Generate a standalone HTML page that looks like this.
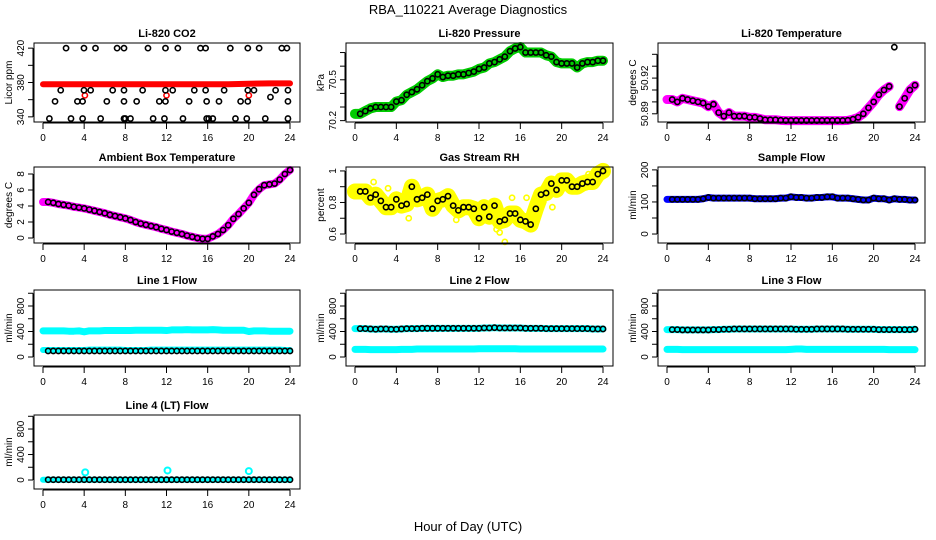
<!DOCTYPE html>
<html><head><meta charset="utf-8"><style>
html,body{margin:0;padding:0;background:#fff;}
svg{display:block;font-family:"Liberation Sans",Arial,sans-serif;}
</style></head><body>
<svg id="chart" width="936" height="540" viewBox="0 0 936 540" xmlns="http://www.w3.org/2000/svg">
<rect width="936" height="540" fill="#fff"/>
<text x="468" y="14" text-anchor="middle" font-size="13">RBA_110221  Average Diagnostics</text>
<text x="468" y="531" text-anchor="middle" font-size="13">Hour of Day (UTC)</text>
</svg>
<script>
// ---- data ----
const halfHours = [0.5,1,1.5,2,2.5,3,3.5,4,4.5,5,5.5,6,6.5,7,7.5,8,8.5,9,9.5,10,10.5,11,11.5,12,12.5,13,13.5,14,14.5,15,15.5,16,16.5,17,17.5,18,18.5,19,19.5,20,20.5,21,21.5,22,22.5,23,23.5,24];
const xTicks = [0,4,8,12,16,20,24];

const co2BlackHours = [2.24,3.98,5.1,7.2,7.87,10.2,11.9,13.1,15.3,15.8,18.2,19.9,21.0,23.2,23.7,
  1.72,3.98,4.63,6.77,7.87,9.68,11.9,12.6,14.7,15.8,17.6,19.9,20.5,22.6,23.8,
  1.17,3.34,3.85,6.2,7.87,9.1,11.3,11.9,14.2,15.9,17.1,19.2,19.9,23.8,22.1,
  0.62,2.72,3.85,5.6,7.87,8.0,8.5,10.7,11.8,13.6,15.9,16.1,16.5,18.7,19.8,21.6,23.8];
const co2BlackValues = [420,420,420,420,420,420,420,420,420,420,420,420,420,420,420,
  371,371,371,371,371,371,371,371,371,371,371,371,371,371,371,
  358,358,358,358,358,358,358,358,358,358,358,358,358,358,363,
  338,338,338,338,338,338,338,338,338,338,338,338,338,338,338,338,338];
const co2RedHours = [0,2,4,6,8,10,12,14,16,18,20,22,24];
const co2RedValues = [378,378,378,378,378,378,378,378,378,378,378.5,379,379];
const co2RedOutHours = [4.07,12.0,20.0];
const co2RedOutValues = [365,365,365];

const pressure = [70.25,70.27,70.29,70.30,70.30,70.30,70.30,70.34,70.35,70.39,70.41,70.43,70.46,70.49,70.51,70.54,70.52,70.53,70.53,70.54,70.54,70.55,70.56,70.58,70.59,70.62,70.63,70.65,70.67,70.71,70.73,70.74,70.70,70.70,70.70,70.70,70.68,70.67,70.63,70.62,70.62,70.62,70.59,70.62,70.63,70.63,70.64,70.64];
const licorTemp = [50.902,50.900,50.903,50.902,50.901,50.900,50.899,50.896,50.898,50.891,50.888,50.891,50.888,50.888,50.888,50.887,50.887,50.886,50.885,50.885,50.885,50.8845,50.8843,50.8843,50.8843,50.8843,50.8843,50.8843,50.8843,50.8843,50.8843,50.8843,50.8843,50.8843,50.8845,50.8855,50.887,50.890,50.895,50.900,50.906,50.910,50.913,50.946,50.896,50.903,50.910,50.914];
const ambientTemp = [4.5,4.4,4.25,4.15,4.05,3.9,3.8,3.7,3.55,3.4,3.25,3.1,2.9,2.75,2.6,2.45,2.25,2.0,1.8,1.65,1.5,1.35,1.15,1.0,0.8,0.65,0.5,0.3,0.15,0.0,-0.1,-0.1,0.2,0.5,1.0,1.6,2.4,3.0,3.7,4.4,5.4,6.1,6.6,6.7,6.8,7.3,8.0,8.5];
const gasRH = [0.87,0.87,0.83,0.85,0.81,0.77,0.77,0.82,0.78,0.79,0.90,0.82,0.83,0.85,0.76,0.81,0.82,0.84,0.78,0.75,0.77,0.77,0.76,0.70,0.77,0.71,0.78,0.68,0.69,0.73,0.73,0.69,0.68,0.66,0.76,0.85,0.86,0.92,0.88,0.94,0.94,0.90,0.90,0.92,0.93,0.93,0.98,1.0];
const rhOutHours = [0.2,1.8,3.2,5.2,9.8,13.7,14.0,14.5,15.2,16.6,19.1,22.6,23.7];
const rhOutValues = [0.89,0.93,0.89,0.70,0.69,0.63,0.61,0.55,0.83,0.83,0.77,0.98,0.99];
const sampleFlow = [108,108,108,108,108,108,110,114,112,112,112,112,112,112,112,112,110,110,110,110,110,112,112,116,114,114,112,112,114,114,116,116,112,112,112,110,108,106,106,112,110,110,106,110,108,108,106,106];
const line1Upper = [410,410,410,410,405,405,410,395,410,410,410,415,415,415,415,415,415,420,420,420,420,420,420,415,425,425,425,430,425,425,425,425,430,425,420,420,420,420,420,400,410,410,410,405,405,405,405,405];
const line1Lower = [110,110,110,110,110,110,110,110,115,115,115,115,115,115,115,110,110,110,110,110,115,115,115,115,115,115,115,115,115,115,115,115,115,115,115,115,115,115,115,115,115,115,115,115,115,115,110,110];
const line1Avg = [95,95,95,95,95,95,95,95,95,95,95,95,95,95,95,95,95,95,95,95,95,95,95,95,95,95,95,95,95,95,95,95,95,95,95,95,95,95,95,95,95,95,95,95,95,95,95,95];
const line2Avg = [445,445,440,435,440,440,435,435,440,445,445,445,450,450,450,450,450,450,450,450,450,450,450,450,455,455,460,455,455,455,455,455,450,450,450,450,445,445,445,445,445,445,445,445,445,440,440,440];
const line2Lower = [120,120,115,115,115,115,115,115,120,120,120,125,125,125,125,125,125,125,125,125,125,125,125,130,130,130,130,130,130,130,130,125,125,125,125,125,125,125,125,125,125,125,125,125,125,125,125,125];
const line3Avg = [430,430,425,425,425,425,425,425,430,430,435,435,440,440,440,440,440,440,440,440,440,440,440,440,435,435,435,435,440,440,440,440,440,440,435,435,435,435,435,435,430,430,430,430,430,430,430,435];
const line3Lower = [120,120,115,115,115,115,115,115,115,115,115,115,115,115,115,115,115,115,115,115,115,115,115,120,125,125,120,120,120,120,120,120,120,120,120,120,120,120,120,120,120,120,115,115,115,115,115,115];
const line4Avg = [5,5,5,5,5,5,5,5,5,5,5,5,5,5,5,5,5,5,5,5,5,5,5,5,5,5,5,5,5,5,5,5,5,5,5,5,5,5,5,5,5,5,5,5,5,5,5,5];
const line4OutHours = [4.1,12.1,20.0];
const line4OutValues = [120,150,140];

// ---- layout ----
const NS = "http://www.w3.org/2000/svg";
const svg = document.getElementById('chart');
const cols = [[34,300],[346,613],[658,925]];
const rows = [[43,122],[167,243],[290,366],[415,489]];
function el(tag, attrs, parent){ const e=document.createElementNS(NS,tag); for(const k in attrs) e.setAttribute(k,attrs[k]); (parent||svg).appendChild(e); return e; }

function panel(c, r, title, ylab, ymin, ymax, ticks, labels, name){
  const [L,R]=cols[c], [T,B]=rows[r];
  const g = el('g',{});
  
  
  const sx = h => (L+9) + h*(R-10-(L+9))/24;
  const sy = v => B - (v-ymin)*(B-T)/(ymax-ymin);
  const plot = el('g',{},g);
  
  
  const t = el('text',{x:(L+R)/2,y:T-6,'text-anchor':'middle','font-size':11,'font-weight':'bold'},g);
  t.textContent=title;
  
  
  // x axis
  const xa = el('g',{},g);
  
  
  el('line',{x1:sx(0),x2:sx(24),y1:B+1,y2:B+1,stroke:'#000'},xa);
  xTicks.forEach(h=>{
    el('line',{x1:sx(h),x2:sx(h),y1:B+1,y2:B+7,stroke:'#000'},xa);
    const tx = el('text',{x:sx(h),y:B+19,'text-anchor':'middle','font-size':10},xa);
    tx.textContent=h;
    
    
  });
  // y axis
  const ya = el('g',{},g);
  
  
  el('line',{x1:L-1,x2:L-1,y1:sy(ticks[0]),y2:sy(ticks[ticks.length-1]),stroke:'#000'},ya);
  ticks.forEach(v=>{
    el('line',{x1:L-1,x2:L-6,y1:sy(v),y2:sy(v),stroke:'#000'},ya);
  });
  labels.forEach(v=>{
    const y=sy(v);
    const tx = el('text',{x:L-10,y:y,'text-anchor':'middle','font-size':10,transform:`rotate(-90 ${L-10} ${y})`},ya);
    tx.textContent=v;
    
    
  });
  const yl = el('text',{x:L-22,y:(T+B)/2,'text-anchor':'middle','font-size':10,transform:`rotate(-90 ${L-22} ${(T+B)/2})`},ya);
  yl.textContent=ylab;
  
  
  el('rect',{x:L,y:T,width:R-L,height:B-T,fill:'none',stroke:'#000','stroke-width':1},g);
  return {sx,sy,plot};
}
function cloud(p, hs, vs, color, w, name, startAt0){
  const pts=[];
  if(startAt0) pts.push(p.sx(0)+','+p.sy(vs[0]));
  hs.forEach((h,i)=>pts.push(p.sx(h)+','+p.sy(vs[i])));
  const pl = el('polyline',{points:pts.join(' '),fill:'none',stroke:color,'stroke-width':w,'stroke-linejoin':'round','stroke-linecap':'round'},p.plot);
  
  
}
function pts(p, hs, vs, color, name, r, sw){
  hs.forEach((h,i)=>{
    const c = el('circle',{cx:p.sx(h),cy:p.sy(vs[i]),r:r||2.6,fill:'none',stroke:color,'stroke-width':sw||1.6},p.plot);
    
    
  });
}
const flowTicks=[0,200,400,600,800,1000], flowLabels=[0,400,800];

// CO2
let p = panel(0,0,'Li-820 CO2','Licor ppm',334,426,[340,360,380,400,420],[340,380,420],'co2');
cloud(p, co2RedHours, co2RedValues, '#ff0000', 6, 'co2-raw-cloud');
pts(p, co2RedOutHours, co2RedOutValues, '#ff0000', 'co2-raw-point');
pts(p, co2BlackHours, co2BlackValues, '#000', 'co2-average-point');

// Pressure
p = panel(1,0,'Li-820 Pressure','kPa',70.19,70.77,[70.2,70.3,70.4,70.5,70.6,70.7],[70.2,70.5],'pressure');
cloud(p, halfHours, pressure, '#00cc00', 10, 'pressure-raw-cloud', true);
pts(p, halfHours, pressure, '#000', 'pressure-average-point');

// Licor temp
p = panel(2,0,'Li-820 Temperature','degrees C',50.8831,50.9495,[50.89,50.9,50.91,50.92,50.93,50.94],[50.89,50.92],'licor-temp');
cloud(p, halfHours.slice(0,43), licorTemp.slice(0,43), '#ff00ff', 9, 'licor-temp-raw-cloud', true);
cloud(p, halfHours.slice(44), licorTemp.slice(44), '#ff00ff', 9, 'licor-temp-raw-cloud');
pts(p, halfHours, licorTemp, '#000', 'licor-temp-average-point');

// Ambient
p = panel(0,1,'Ambient Box Temperature','degrees C',-0.625,8.875,[0,2,4,6,8],[0,2,4,6,8],'ambient-temp');
cloud(p, halfHours, ambientTemp, '#ff00ff', 8, 'ambient-temp-raw-cloud', true);
pts(p, halfHours, ambientTemp, '#000', 'ambient-temp-average-point');

// RH
p = panel(1,1,'Gas Stream RH','percent',0.543,1.025,[0.6,0.7,0.8,0.9,1.0],[0.6,0.8,1.0],'gas-rh');
cloud(p, halfHours, gasRH, '#ffff00', 16, 'gas-rh-raw-cloud', true);
pts(p, rhOutHours, rhOutValues, '#ffff00', 'gas-rh-raw-point');
pts(p, halfHours, gasRH, '#000', 'gas-rh-average-point');

// Sample flow
p = panel(2,1,'Sample Flow','ml/min',-28,209,[0,50,100,150,200],[0,100,200],'sample-flow');
cloud(p, halfHours, sampleFlow, '#0000ff', 7, 'sample-flow-raw-cloud', true);
pts(p, halfHours, sampleFlow, '#000', 'sample-flow-average-point');

// Line 1
p = panel(0,2,'Line 1 Flow','ml/min',-141,1051,flowTicks,flowLabels,'line1-flow');
cloud(p, halfHours, line1Upper, '#00ffff', 7, 'line1-raw-upper', true);
cloud(p, halfHours, line1Lower, '#00ffff', 6, 'line1-raw-lower', true);
pts(p, halfHours, line1Avg, '#000', 'line1-average-point');

// Line 2
p = panel(1,2,'Line 2 Flow','ml/min',-141,1051,flowTicks,flowLabels,'line2-flow');
cloud(p, halfHours, line2Avg, '#00ffff', 7, 'line2-raw-upper', true);
cloud(p, halfHours, line2Lower, '#00ffff', 7, 'line2-raw-lower', true);
pts(p, halfHours, line2Avg, '#000', 'line2-average-point');

// Line 3
p = panel(2,2,'Line 3 Flow','ml/min',-141,1051,flowTicks,flowLabels,'line3-flow');
cloud(p, halfHours, line3Avg, '#00ffff', 7, 'line3-raw-upper', true);
cloud(p, halfHours, line3Lower, '#00ffff', 7, 'line3-raw-lower', true);
pts(p, halfHours, line3Avg, '#000', 'line3-average-point');

// Line 4
p = panel(0,3,'Line 4 (LT) Flow','ml/min',-141,1020,flowTicks,flowLabels,'line4-flow');
cloud(p, halfHours, line4Avg, '#00ffff', 6, 'line4-raw-cloud', true);
pts(p, line4OutHours, line4OutValues, '#00ffff', 'line4-raw-point', 3, 2);
pts(p, halfHours, line4Avg, '#000', 'line4-average-point');
</script>
</body></html>
